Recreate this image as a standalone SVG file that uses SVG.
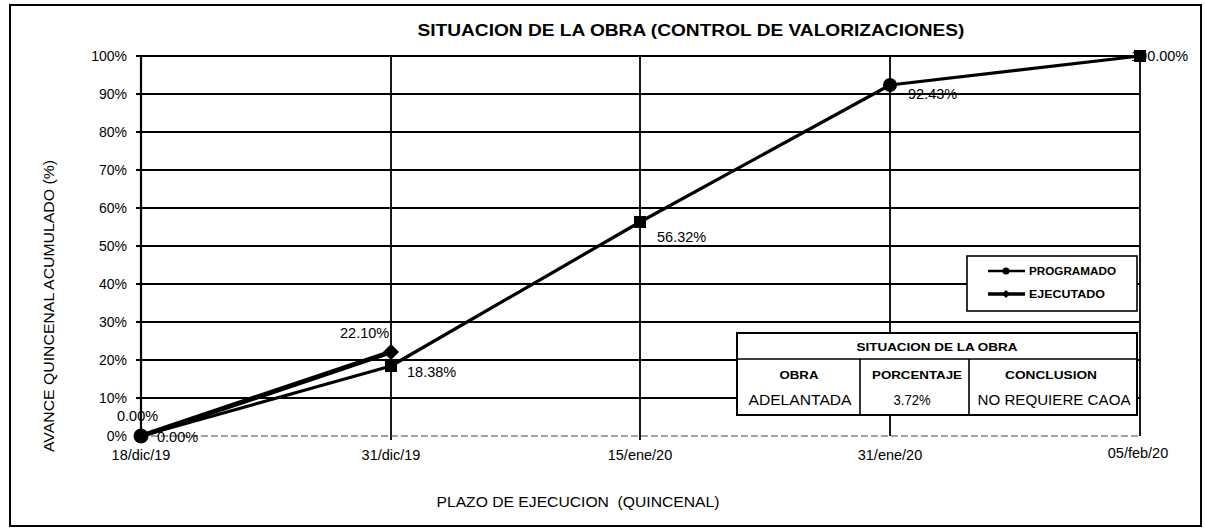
<svg xmlns="http://www.w3.org/2000/svg" width="1205" height="530" viewBox="0 0 1205 530">
<style>
text{font-family:"Liberation Sans",Arial,sans-serif;fill:#000}
.ytick{font-size:14px;text-anchor:end}
.xtick{font-size:14.5px;text-anchor:middle}
.dl{font-size:14.5px}
.grid{stroke:#000;stroke-width:1.8;fill:none}
.th{font-size:11px;font-weight:bold;text-anchor:middle}
.td{font-size:14px;text-anchor:middle}
.lg{font-size:10.5px;font-weight:bold}
</style>
<defs>
<rect id="sq" x="-6" y="-6" width="12" height="12" fill="#000"/>
<path id="dm" d="M0,-8 L8,0 L0,8 L-8,0 Z" fill="#000"/>
</defs>
<rect id="frame" x="10" y="5" width="1191" height="521" fill="#fff" stroke="#000" stroke-width="2"/>
<g id="title">
<text x="691" y="36" font-size="16" font-weight="bold" text-anchor="middle" textLength="547" lengthAdjust="spacingAndGlyphs">SITUACION DE LA OBRA (CONTROL DE VALORIZACIONES)</text>
</g>
<g id="gridlines" class="grid">
<path d="M136,56H1140M136,94H1140M136,132H1140M136,170H1140M136,208H1140M136,246H1140M136,284H1140M136,322H1140M136,360H1140M136,398H1140"/>
<path d="M391,56V440M640,56V440M890,56V436M1140,56V436"/>
<path d="M141,56V436" stroke-width="2.2"/>
<path d="M141,436H1140" stroke="#444" stroke-width="1.2" stroke-dasharray="7 3"/>
</g>
<g id="yaxis">
<text class="ytick" x="127" y="61">100%</text>
<text class="ytick" x="127" y="99">90%</text>
<text class="ytick" x="127" y="137">80%</text>
<text class="ytick" x="127" y="175">70%</text>
<text class="ytick" x="127" y="213">60%</text>
<text class="ytick" x="127" y="251">50%</text>
<text class="ytick" x="127" y="289">40%</text>
<text class="ytick" x="127" y="327">30%</text>
<text class="ytick" x="127" y="365">20%</text>
<text class="ytick" x="127" y="403">10%</text>
<text class="ytick" x="127" y="441">0%</text>
<text x="0" y="0" font-size="14" text-anchor="middle" transform="translate(54,306) rotate(-90)" textLength="292" lengthAdjust="spacingAndGlyphs">AVANCE QUINCENAL ACUMULADO (%)</text>
</g>
<g id="xaxis">
<text class="xtick" x="141" y="460">18/dic/19</text>
<text class="xtick" x="391" y="460">31/dic/19</text>
<text class="xtick" x="640" y="460">15/ene/20</text>
<text class="xtick" x="890" y="460">31/ene/20</text>
<text class="xtick" x="1138" y="458">05/feb/20</text>
<text x="578" y="507" font-size="14" text-anchor="middle" textLength="283" lengthAdjust="spacingAndGlyphs" xml:space="preserve" style="white-space:pre">PLAZO DE EJECUCION  (QUINCENAL)</text>
</g>
<g id="connectors" fill="none" stroke="#000" stroke-linejoin="round">
<polyline id="programado" points="141,436 391,366 640,222 890,85 1140,56" stroke-width="3.2"/>
<polyline id="ejecutado" points="141,436 391,352" stroke-width="5"/>
</g>
<g id="labels">
<text class="dl" x="1131" y="61">100.00%</text>
<text class="dl" x="117" y="421">0.00%</text>
<text class="dl" x="157" y="442">0.00%</text>
<text class="dl" x="340" y="338">22.10%</text>
<text class="dl" x="407" y="377">18.38%</text>
<text class="dl" x="657" y="242">56.32%</text>
<text class="dl" x="908" y="99">92.43%</text>
</g>
<g id="markers">
<circle cx="141" cy="436" r="7.5" fill="#000"/>
<use href="#sq" x="391" y="366"/>
<use href="#sq" x="640" y="222"/>
<circle cx="890" cy="85" r="7" fill="#000"/>
<use href="#sq" x="1140" y="56"/>
<use href="#dm" x="391" y="352"/>
</g>
<g id="legend">
<rect x="967" y="256" width="170" height="55" fill="#fff" stroke="#000" stroke-width="1.6"/>
<path d="M988,271H1025" stroke="#000" stroke-width="2.5"/>
<circle cx="1006" cy="271" r="3.5" fill="#000"/>
<text class="lg" x="1029" y="275" textLength="87" lengthAdjust="spacingAndGlyphs">PROGRAMADO</text>
<path d="M988,294H1025" stroke="#000" stroke-width="3.5"/>
<path d="M1006,290 L1010,294 L1006,298 L1002,294Z" fill="#000"/>
<text class="lg" x="1029" y="298" textLength="76" lengthAdjust="spacingAndGlyphs">EJECUTADO</text>
</g>
<g id="table">
<rect x="737" y="333" width="400" height="82" fill="#fff" stroke="#000" stroke-width="2"/>
<path d="M737,359H1137M860,359V415M969,359V415" stroke="#000" stroke-width="1.6"/>
<text class="th" x="937" y="351" textLength="161" lengthAdjust="spacingAndGlyphs">SITUACION DE LA OBRA</text>
<text class="th" x="799" y="379" textLength="39" lengthAdjust="spacingAndGlyphs">OBRA</text>
<text class="th" x="917" y="379" textLength="90" lengthAdjust="spacingAndGlyphs">PORCENTAJE</text>
<text class="th" x="1051" y="379" textLength="92" lengthAdjust="spacingAndGlyphs">CONCLUSION</text>
<text class="td" x="800" y="405" textLength="103" lengthAdjust="spacingAndGlyphs">ADELANTADA</text>
<text class="td" x="912" y="405" textLength="37" lengthAdjust="spacingAndGlyphs">3.72%</text>
<text class="td" x="1054" y="405" textLength="153" lengthAdjust="spacingAndGlyphs">NO REQUIERE CAOA</text>
</g>
</svg>
